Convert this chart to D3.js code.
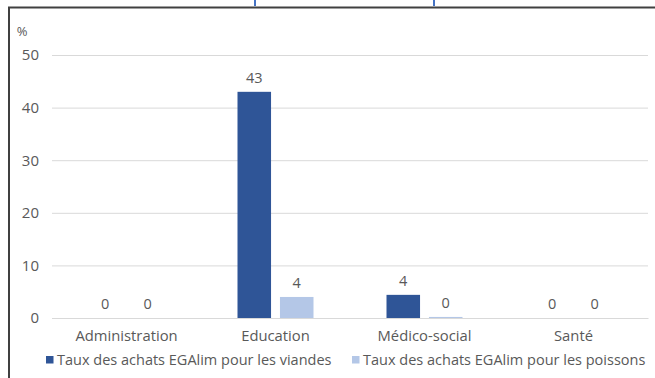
<!DOCTYPE html>
<html>
<head>
<meta charset="utf-8">
<script src="https://cdn.jsdelivr.net/npm/d3@7"></script>
<style>
  body { margin: 0; background: #fff; }
  svg { display: block; font-family: 'Open Sans', sans-serif; }
</style>
</head>
<body>
<div id="chart"></div>
<script>
// data
var categories = ['Administration', 'Education', 'Médico-social', 'Santé'];
var seriesNames = ['Taux des achats EGAlim pour les viandes', 'Taux des achats EGAlim pour les poissons'];
var viandes = [0, 43, 4.4, 0];
var poissons = [0, 4, 0.2, 0];
var yTicks = [0, 10, 20, 30, 40, 50];
var colors = ['#2F5597', '#B4C7E7'];

var width = 655;
var height = 378;
var textColor = '#595959';

var svg = d3.select('#chart')
            .append('svg')
            .attr('width', width)
            .attr('height', height);

// frame (the chart box is cropped on top/right)
svg.append('path')
   .attr('d', 'M9,' + height + 'V7.5H' + width)
   .attr('fill', 'none')
   .attr('stroke', '#404040')
   .attr('stroke-width', 2);

// bits of the cut-off title above the frame
[254, 433].forEach(function (px) {
  svg.append('rect')
     .attr('x', px).attr('y', 0)
     .attr('width', 2).attr('height', 6)
     .attr('fill', '#4472C4');
});

var x0 = d3.scaleBand()
           .domain(categories)
           .range([52, 648]);

var x1 = d3.scaleBand()
           .domain([0, 1])
           .range([36.5, 112.5])
           .paddingInner(0.21);

var y = d3.scaleLinear()
          .domain([0, 50])
          .range([318, 55]);

// grid lines + y labels
var yAxis = d3.axisLeft(y)
              .tickValues(yTicks)
              .tickSize(-(648 - 52))
              .tickPadding(13);

var gy = svg.append('g')
            .attr('transform', 'translate(52,0)')
            .call(yAxis);
gy.select('.domain').remove();
gy.selectAll('line').attr('stroke', '#d9d9d9');
gy.selectAll('text')
  .attr('fill', textColor)
  .style('font-size', '15px')
  .style('font-family', "'Open Sans', sans-serif");

svg.append('text')
   .attr('x', 22).attr('y', 36)
   .attr('text-anchor', 'middle')
   .attr('fill', textColor)
   .style('font-size', '13px')
   .text('%');

// bars
var rows = categories.map(function (c, i) {
  return { cat: c, vals: [viandes[i], poissons[i]] };
});

var groups = svg.selectAll('.grp')
                .data(rows)
                .enter()
                .append('g')
                  .attr('class', 'grp')
                  .attr('transform', function (d) { return 'translate(' + x0(d.cat) + ',0)'; });

groups.selectAll('rect')
      .data(function (d) { return d.vals; })
      .enter()
      .append('rect')
        .attr('x', function (d, i) { return x1(i); })
        .attr('width', x1.bandwidth())
        .attr('y', function (d) { return y(d); })
        .attr('height', function (d) { return y(0) - y(d); })
        .attr('fill', function (d, i) { return colors[i]; });

groups.selectAll('.lbl')
      .data(function (d) { return d.vals; })
      .enter()
      .append('text')
        .attr('class', 'lbl')
        .attr('x', function (d, i) { return x1(i) + x1.bandwidth() / 2; })
        .attr('y', function (d) { return y(d) - 9; })
        .attr('text-anchor', 'middle')
        .attr('fill', textColor)
        .style('font-size', '14.5px')
        .text(function (d) { return Math.round(d); });

// x axis
var xAxis = d3.axisBottom(x0).tickSize(0).tickPadding(12);
var gx = svg.append('g')
            .attr('transform', 'translate(0,318)')
            .call(xAxis);
gx.select('.domain').attr('stroke', '#d9d9d9');
gx.selectAll('text')
  .attr('fill', textColor)
  .style('font-size', '14.8px')
  .style('font-family', "'Open Sans', sans-serif");

// legend
var legendX = [46, 352];
var leg = svg.selectAll('.leg')
             .data(seriesNames)
             .enter()
             .append('g')
               .attr('class', 'leg')
               .attr('transform', function (d, i) { return 'translate(' + legendX[i] + ',356)'; });
leg.append('rect')
   .attr('x', 0).attr('y', 0)
   .attr('width', 7.5).attr('height', 7.5)
   .attr('fill', function (d, i) { return colors[i]; });
leg.append('text')
   .attr('x', 11).attr('y', 9)
   .attr('fill', textColor)
   .style('font-size', '14.5px')
   .text(function (d) { return d; });
</script>
</body>
</html>
